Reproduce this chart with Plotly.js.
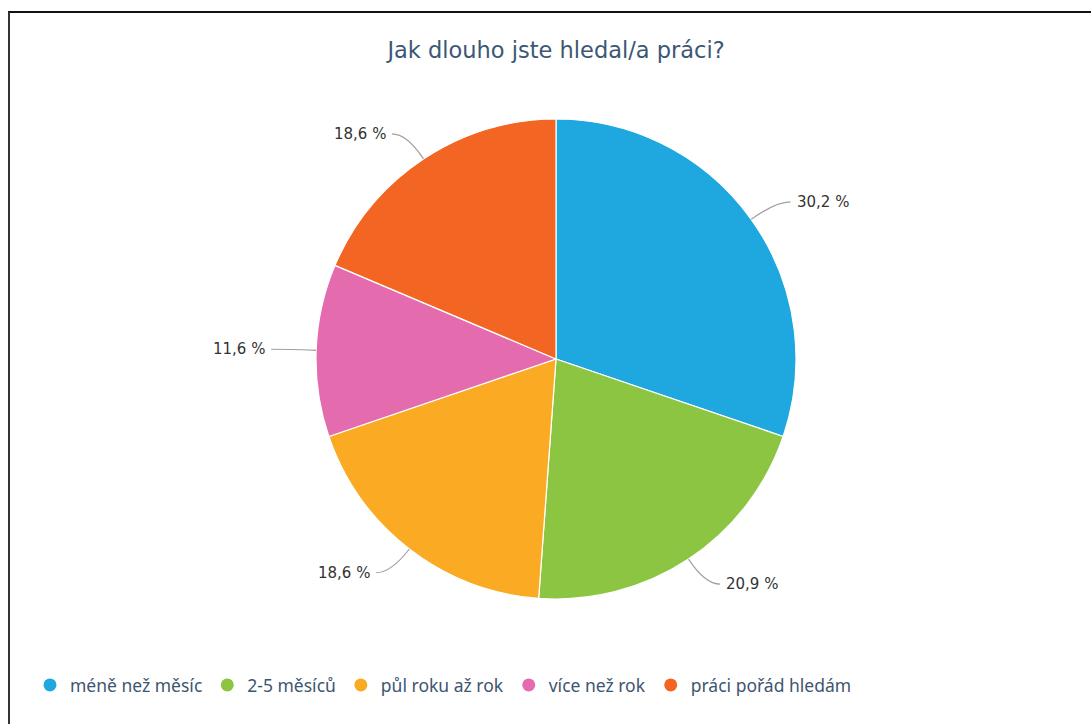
<!DOCTYPE html>
<html><head><meta charset="utf-8">
<script src="https://cdn.plot.ly/plotly-3.0.1.min.js"></script>
<style>
html,body{margin:0;padding:0;background:#fff;overflow:hidden}
#frame{position:absolute;left:8px;top:11px;width:1200px;height:800px;border-top:2px solid #111;border-left:2px solid #333;box-sizing:border-box}
#chart{position:absolute;left:0;top:0;width:1091px;height:724px}
</style></head><body>
<div id="frame"></div><div id="chart"></div>
<script>
const categories = ['méně než měsíc','2-5 měsíců','půl roku až rok','více než rok','práci pořád hledám'];
const values = [30.2, 20.9, 18.6, 11.6, 18.6];
const valueLabels = ['30,2 %','20,9 %','18,6 %','11,6 %','18,6 %'];
const colors = ['#1fa8e0','#8bc541','#fbaa23','#e56baf','#f26522'];
const titleText = 'Jak dlouho jste hledal/a práci?';

const W = 1091, H = 724, M = {l:21, r:0, t:119, b:125};
const PW = W - M.l - M.r, PH = H - M.t - M.b;
const CX = M.l + PW/2, CY = M.t + PH/2, R = Math.min(PW, PH)/2;
const fx = px => (px - M.l)/PW;
const fy = py => 1 - (py - M.t)/PH;

const total = values.reduce((a,b)=>a+b,0);
let cum = 0;
const shapes = [], annotations = [];
values.forEach((v,i)=>{
  const mid = (cum + v/2)/total*2*Math.PI;
  cum += v;
  const s = Math.sin(mid), c = Math.cos(mid);
  const ex = CX + R*s, ey = CY - R*c;
  const px = CX + (R+30)*s, py = CY - (R+30)*c;
  const side = s >= 0 ? 1 : -1;
  const endx = px + side*15;
  shapes.push({type:'path', xref:'paper', yref:'paper',
    path:`M ${fx(ex)},${fy(ey)} Q ${fx(px)},${fy(py)} ${fx(endx)},${fy(py)}`,
    line:{color:'#a0a0a0', width:1.2}});
  annotations.push({xref:'paper', yref:'paper', x:fx(px + side*19), y:fy(py),
    xanchor: side>0?'left':'right', yanchor:'middle', showarrow:false,
    text: valueLabels[i], font:{family:'DejaVu Sans', size:15, color:'#333333'}});
});

const data = [{
  type:'pie', values: values, labels: categories, sort:false,
  direction:'clockwise', rotation:0, textinfo:'none', hoverinfo:'label+percent',
  marker:{colors: colors, line:{color:'#ffffff', width:1.2}}, showlegend:false
}];
categories.forEach((name,i)=>{
  data.push({type:'scatter', x:[null], y:[null], mode:'markers', name:name,
    marker:{color:colors[i], size:13, symbol:'circle'}, showlegend:true, hoverinfo:'skip'});
});

const layout = {
  width:W, height:H,
  margin:{l:M.l, r:M.r, t:M.t, b:M.b, autoexpand:false},
  paper_bgcolor:'rgba(0,0,0,0)', plot_bgcolor:'rgba(0,0,0,0)',
  title:{text:titleText, xref:'paper', x:0.5, xanchor:'center', yref:'container', y:1-50/H, yanchor:'middle',
    font:{family:'DejaVu Sans', size:22.5, color:'#3c5775'}},
  xaxis:{visible:false}, yaxis:{visible:false},
  showlegend:true,
  legend:{orientation:'h', x:fx(30), xanchor:'left', y:fy(685), yanchor:'middle',
    font:{family:'Noto Sans', size:17.5, color:'#3e5570'}, bgcolor:'rgba(0,0,0,0)', traceorder:'normal'},
  shapes: shapes, annotations: annotations
};
Plotly.newPlot('chart', data, layout, {displayModeBar:false, staticPlot:true});
</script>
</body></html>
